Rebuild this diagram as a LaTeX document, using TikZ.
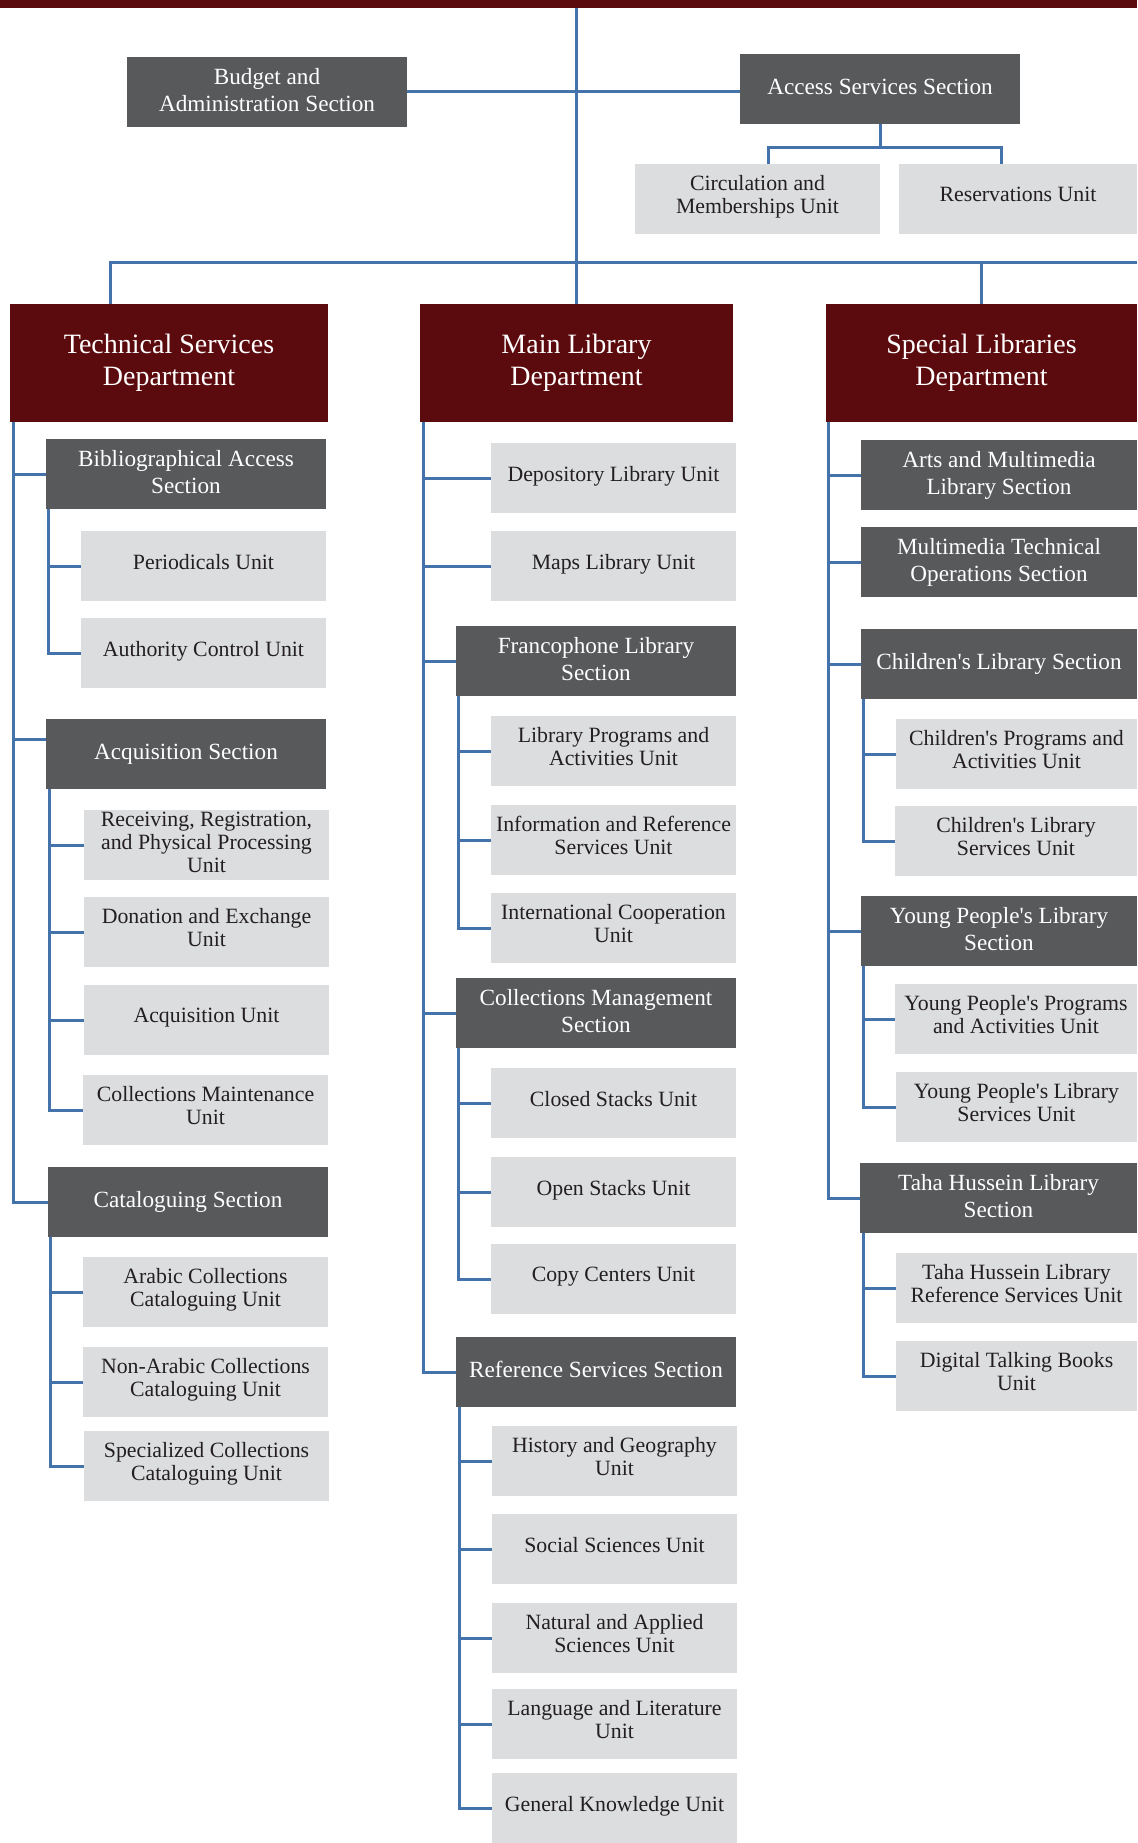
\documentclass[tikz,border=0pt]{standalone}
\usepackage{fontspec}
\setmainfont{Liberation Serif}
\definecolor{deptred}{RGB}{91,10,13}
\definecolor{sectgray}{RGB}{88,89,91}
\definecolor{unitgray}{RGB}{220,221,223}
\definecolor{textdark}{RGB}{35,31,32}
\definecolor{connblue}{RGB}{68,114,170}
\newcommand{\ap}{\textquotesingle}
\tikzset{
  box/.style={anchor=north west, inner sep=0pt, outer sep=0pt, align=center},
  dept/.style={box, fill=deptred, text=white, font=\fontsize{28}{32}\selectfont, minimum height=118pt},
  sect/.style={box, fill=sectgray, text=white, font=\fontsize{23.2}{27}\selectfont, minimum height=70pt, minimum width=280pt, text depth=5pt},
  unit/.style={box, fill=unitgray, text=textdark, font=\fontsize{21.8}{23}\selectfont, minimum height=70pt, minimum width=245pt, text depth=9pt},
  conn/.style={draw=connblue, line width=3pt, line join=miter},
}
\begin{document}
\begin{tikzpicture}[x=1pt,y=-1pt]
\useasboundingbox (0,0) rectangle (1137,1843);
\fill[white] (0,0) rectangle (1137,1843);
\fill[deptred] (0,0) rectangle (1137,8);
\coordinate (top) at (576,8);
\coordinate (accbar) at (0,148);
\coordinate (barR) at (1137,263);

% top level
\node[sect] (budget) at (127,57) {Budget and\\Administration Section};
\node[sect] (access) at (740,54) {Access Services Section};
\node[unit] (circ) at (635,164) {Circulation and\\Memberships Unit};
\node[unit, minimum width=238pt] (resv) at (899,164) {Reservations Unit};

% departments
\node[dept, minimum width=318pt] (tech) at (10,304) {Technical Services\\Department};
\node[dept, minimum width=313pt] (mainlib) at (420,304) {Main Library\\Department};
\node[dept, minimum width=311pt] (special) at (826,304) {Special Libraries\\Department};

% technical services
\node[sect] (bib) at (46,439) {Bibliographical Access\\Section};
\node[unit] (period) at (81,531) {Periodicals Unit};
\node[unit] (auth) at (81,618) {Authority Control Unit};
\node[sect] (acqs) at (46,719) {Acquisition Section};
\node[unit, text depth=5pt] (recv) at (84,810) {Receiving, Registration,\\and Physical Processing\\Unit};
\node[unit] (donat) at (84,897) {Donation and Exchange\\Unit};
\node[unit] (acqu) at (84,985) {Acquisition Unit};
\node[unit] (maint) at (83,1075) {Collections Maintenance\\Unit};
\node[sect] (cat) at (48,1167) {Cataloguing Section};
\node[unit] (arabic) at (83,1257) {Arabic Collections\\Cataloguing Unit};
\node[unit] (nonarab) at (83,1347) {Non-Arabic Collections\\Cataloguing Unit};
\node[unit] (speccoll) at (84,1431) {Specialized Collections\\Cataloguing Unit};

% main library
\node[unit] (depos) at (491,443) {Depository Library Unit};
\node[unit] (maps) at (491,531) {Maps Library Unit};
\node[sect] (franco) at (456,626) {Francophone Library\\Section};
\node[unit] (progs) at (491,716) {Library Programs and\\Activities Unit};
\node[unit] (info) at (491,805) {Information and Reference\\Services Unit};
\node[unit] (intl) at (491,893) {International Cooperation\\Unit};
\node[sect] (collm) at (456,978) {Collections Management\\Section};
\node[unit] (closed) at (491,1068) {Closed Stacks Unit};
\node[unit] (open) at (491,1157) {Open Stacks Unit};
\node[unit] (copy) at (491,1244) {Copy Centers Unit};
\node[sect] (refs) at (456,1337) {Reference Services Section};
\node[unit] (hist) at (492,1426) {History and Geography\\Unit};
\node[unit] (social) at (492,1514) {Social Sciences Unit};
\node[unit] (natural) at (492,1603) {Natural and Applied\\Sciences Unit};
\node[unit] (lang) at (492,1689) {Language and Literature\\Unit};
\node[unit] (general) at (492,1773) {General Knowledge Unit};

% special libraries
\node[sect, minimum width=276pt] (arts) at (861,440) {Arts and Multimedia\\Library Section};
\node[sect, minimum width=276pt] (mmtech) at (861,527) {Multimedia Technical\\Operations Section};
\node[sect, minimum width=276pt] (child) at (861,629) {Children\ap s Library Section};
\node[unit, minimum width=241pt] (cprog) at (896,719) {Children\ap s Programs and\\Activities Unit};
\node[unit, minimum width=242pt] (cserv) at (895,806) {Children\ap s Library\\Services Unit};
\node[sect, minimum width=276pt] (young) at (861,896) {Young People\ap s Library\\Section};
\node[unit, minimum width=242pt] (yprog) at (895,984) {Young People\ap s Programs\\and Activities Unit};
\node[unit, minimum width=241pt] (yserv) at (896,1072) {Young People\ap s Library\\Services Unit};
\node[sect, minimum width=277pt] (taha) at (860,1163) {Taha Hussein Library\\Section};
\node[unit, minimum width=241pt] (taharef) at (896,1253) {Taha Hussein Library\\Reference Services Unit};
\node[unit, minimum width=241pt] (digital) at (896,1341) {Digital Talking Books\\Unit};

% connectors: top
\draw[conn] (mainlib.north |- top) -- (mainlib.north);
\draw[conn] (budget.east) -- (budget.east -| access.west);
\draw[conn] (access.south) -- (access.south |- accbar);
\draw[conn] ([xshift=11pt]circ.north) -- ++(0,16pt) -| ([xshift=-17pt]resv.north);
\draw[conn] ([xshift=-59pt]tech.north) |- (barR);
\draw[conn] (special.north) -- (special.north |- barR);

% technical
\draw[conn] ([xshift=3pt]tech.south west) |- (cat.west);
\draw[conn] (bib.west) -- ++(-33pt,0);
\draw[conn] ([yshift=15pt]acqs.west) -- ++(-33pt,0);
\draw[conn] ([xshift=2pt]bib.south west) |- (auth.west);
\draw[conn] (period.west) -- ++(-33pt,0);
\draw[conn] ([xshift=3pt]acqs.south west) |- (maint.west);
\draw[conn] (recv.west) -- ++(-35pt,0);
\draw[conn] (donat.west) -- ++(-35pt,0);
\draw[conn] (acqu.west) -- ++(-35pt,0);
\draw[conn] ([xshift=2pt]cat.south west) |- (speccoll.west);
\draw[conn] (arabic.west) -- ++(-33pt,0);
\draw[conn] (nonarab.west) -- ++(-33pt,0);

% main library
\draw[conn] ([xshift=3pt]mainlib.south west) |- (refs.west);
\draw[conn] (depos.west) -- ++(-68pt,0);
\draw[conn] (maps.west) -- ++(-68pt,0);
\draw[conn] (franco.west) -- ++(-33pt,0);
\draw[conn] (collm.west) -- ++(-33pt,0);
\draw[conn] ([xshift=2pt]franco.south west) |- (intl.west);
\draw[conn] (progs.west) -- ++(-33pt,0);
\draw[conn] (info.west) -- ++(-33pt,0);
\draw[conn] ([xshift=2pt]collm.south west) |- (copy.west);
\draw[conn] (closed.west) -- ++(-33pt,0);
\draw[conn] (open.west) -- ++(-33pt,0);
\draw[conn] ([xshift=3pt]refs.south west) |- (general.west);
\draw[conn] (hist.west) -- ++(-33pt,0);
\draw[conn] (social.west) -- ++(-33pt,0);
\draw[conn] (natural.west) -- ++(-33pt,0);
\draw[conn] (lang.west) -- ++(-33pt,0);

% special libraries
\draw[conn] ([xshift=2pt]special.south west) |- (taha.west);
\draw[conn] (arts.west) -- ++(-33pt,0);
\draw[conn] (mmtech.west) -- ++(-33pt,0);
\draw[conn] (child.west) -- ++(-33pt,0);
\draw[conn] (young.west) -- ++(-33pt,0);
\draw[conn] ([xshift=2pt]child.south west) |- (cserv.west);
\draw[conn] (cprog.west) -- ++(-33pt,0);
\draw[conn] ([xshift=2pt]young.south west) |- (yserv.west);
\draw[conn] (yprog.west) -- ++(-33pt,0);
\draw[conn] ([xshift=3pt]taha.south west) |- (digital.west);
\draw[conn] (taharef.west) -- ++(-33pt,0);
\end{tikzpicture}
\end{document}
